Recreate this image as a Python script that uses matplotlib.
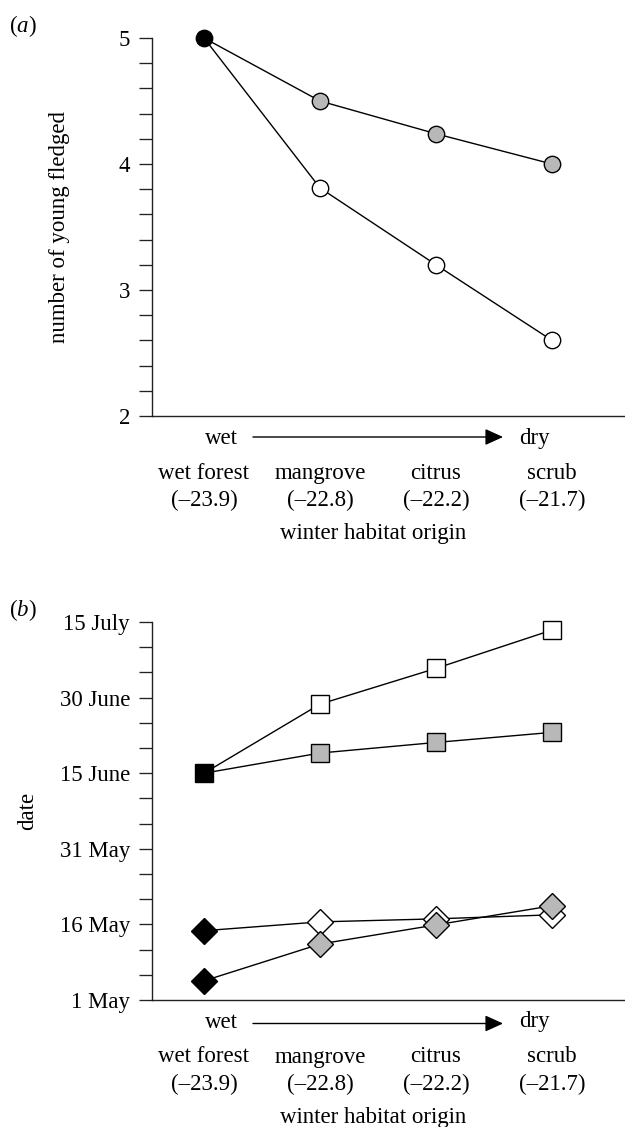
import matplotlib
matplotlib.use('Agg')
import matplotlib.pyplot as plt
from matplotlib.ticker import FixedLocator, MultipleLocator
from matplotlib.transforms import offset_copy

plt.rcParams['font.family'] = ['Liberation Serif', 'DejaVu Serif']
plt.rcParams['mathtext.fontset'] = 'custom'
plt.rcParams['mathtext.rm'] = 'Liberation Serif'
plt.rcParams['mathtext.it'] = 'Liberation Serif:italic'

# ---------------- data ----------------
categories = ['wet forest', 'mangrove', 'citrus', 'scrub']
isotopes = ['(–23.9)', '(–22.8)', '(–22.2)', '(–21.7)']
x_pos = [0, 1, 2, 3]

# panel (a): number of young fledged
young_open = [5.0, 3.81, 3.20, 2.60]
young_grey = [5.0, 4.50, 4.24, 4.00]
young_ticks = [2, 3, 4, 5]

# panel (b): dates, as days after 1 May
date_ticks = [0, 15, 30, 45, 60, 75]
date_labels = ['1 May', '16 May', '31 May', '15 June', '30 June', '15 July']
sq_open = [45.0, 58.7, 65.8, 73.4]
sq_grey = [45.0, 49.0, 51.1, 53.1]
dm_open = [13.75, 15.5, 16.1, 16.9]
dm_grey = [3.8, 11.1, 14.9, 18.7]

GREY = '#b8b8b8'
FS = 16.5

W, H = 625, 1127
fig = plt.figure(figsize=(W / 100, H / 100), dpi=100)


def rect(left, top, right, bottom):
    return [left / W, 1 - bottom / H, (right - left) / W, (bottom - top) / H]


ax_a = fig.add_axes(rect(152, 38, 625, 416))
ax_b = fig.add_axes(rect(152, 622, 625, 1000))

for ax in (ax_a, ax_b):
    ax.set_xlim(-52 / 116, 421 / 116)
    for s in ('top', 'right'):
        ax.spines[s].set_visible(False)
    for s in ('left', 'bottom'):
        ax.spines[s].set_linewidth(1.0)
        ax.spines[s].set_color('#222222')
    ax.set_xticks([])
    ax.tick_params(axis='y', which='both', direction='out', length=9.4,
                   width=0.95, color='#222222', labelsize=FS, pad=6.5)
    ax.patch.set_alpha(0)


def series(ax, y, marker, face, ms):
    ax.plot(x_pos, y, '-', color='black', lw=1.0, zorder=2)
    ax.plot(x_pos[1:], y[1:], linestyle='none', marker=marker, ms=ms,
            mfc=face, mec='black', mew=1.0, zorder=3, clip_on=False)


def start(ax, y, marker, ms):
    ax.plot([x_pos[0]], [y], linestyle='none', marker=marker, ms=ms,
            mfc='black', mec='black', mew=1.0, zorder=5, clip_on=False)


# ---- panel a ----
ax_a.set_ylim(2, 5)
ax_a.yaxis.set_major_locator(FixedLocator(young_ticks))
ax_a.yaxis.set_minor_locator(MultipleLocator(0.2))
series(ax_a, young_open, 'o', 'white', 11.8)
series(ax_a, young_grey, 'o', GREY, 11.8)
start(ax_a, young_open[0], 'o', 11.8)

# ---- panel b ----
ax_b.set_ylim(0, 75)
ax_b.yaxis.set_major_locator(FixedLocator(date_ticks))
ax_b.set_yticklabels(date_labels)
ax_b.yaxis.set_minor_locator(MultipleLocator(5))
series(ax_b, sq_open, 's', 'white', 13.6)
series(ax_b, sq_grey, 's', GREY, 13.6)
start(ax_b, sq_open[0], 's', 13.6)
series(ax_b, dm_open, 'D', 'white', 13.6)
series(ax_b, dm_grey, 'D', GREY, 13.6)
start(ax_b, dm_open[0], 'D', 13.6)
start(ax_b, dm_grey[0], 'D', 13.6)


def under_axis(ax, arrow_off):
    tr = ax.get_xaxis_transform()

    def off(px):
        return offset_copy(tr, fig=fig, y=-px, units='dots')

    ax.text(0.147, 0, 'wet', transform=off(27.5), ha='center', va='baseline',
            fontsize=FS, clip_on=False)
    ax.text(2.85, 0, 'dry', transform=off(27.5), ha='center', va='baseline',
            fontsize=FS, clip_on=False)
    ax.annotate('', xy=(2.578, 0), xycoords=off(arrow_off),
                xytext=(0.422, 0), textcoords=off(arrow_off),
                arrowprops=dict(arrowstyle='-|>,head_length=1.1,head_width=0.5',
                                color='black', lw=1.0, shrinkA=0, shrinkB=0,
                                mutation_scale=10),
                annotation_clip=False)
    for x, c, iso in zip(x_pos, categories, isotopes):
        ax.text(x, 0, c, transform=off(62.5), ha='center', va='baseline',
                fontsize=FS, clip_on=False)
        ax.text(x, 0, iso, transform=off(90.5), ha='center', va='baseline',
                fontsize=FS, clip_on=False)
    ax.text(1.46, 0, 'winter habitat origin', transform=off(122.5),
            ha='center', va='baseline', fontsize=FS, clip_on=False)


under_axis(ax_a, 21)
under_axis(ax_b, 23.5)

ax_a.set_ylabel('number of young fledged', fontsize=FS)
ax_a.yaxis.set_label_coords((70 - 152) / 473, 0.5)
ax_b.set_ylabel('date', fontsize=FS)
ax_b.yaxis.set_label_coords((38 - 152) / 473, 0.5)

fig.text(23 / W, 1 - 26 / H, '(' + r'$\mathit{a}$' + ')', ha='center',
         va='center', fontsize=FS)
fig.text(23 / W, 1 - 610 / H, '(' + r'$\mathit{b}$' + ')', ha='center',
         va='center', fontsize=FS)

fig.savefig('out.png', dpi=100)
